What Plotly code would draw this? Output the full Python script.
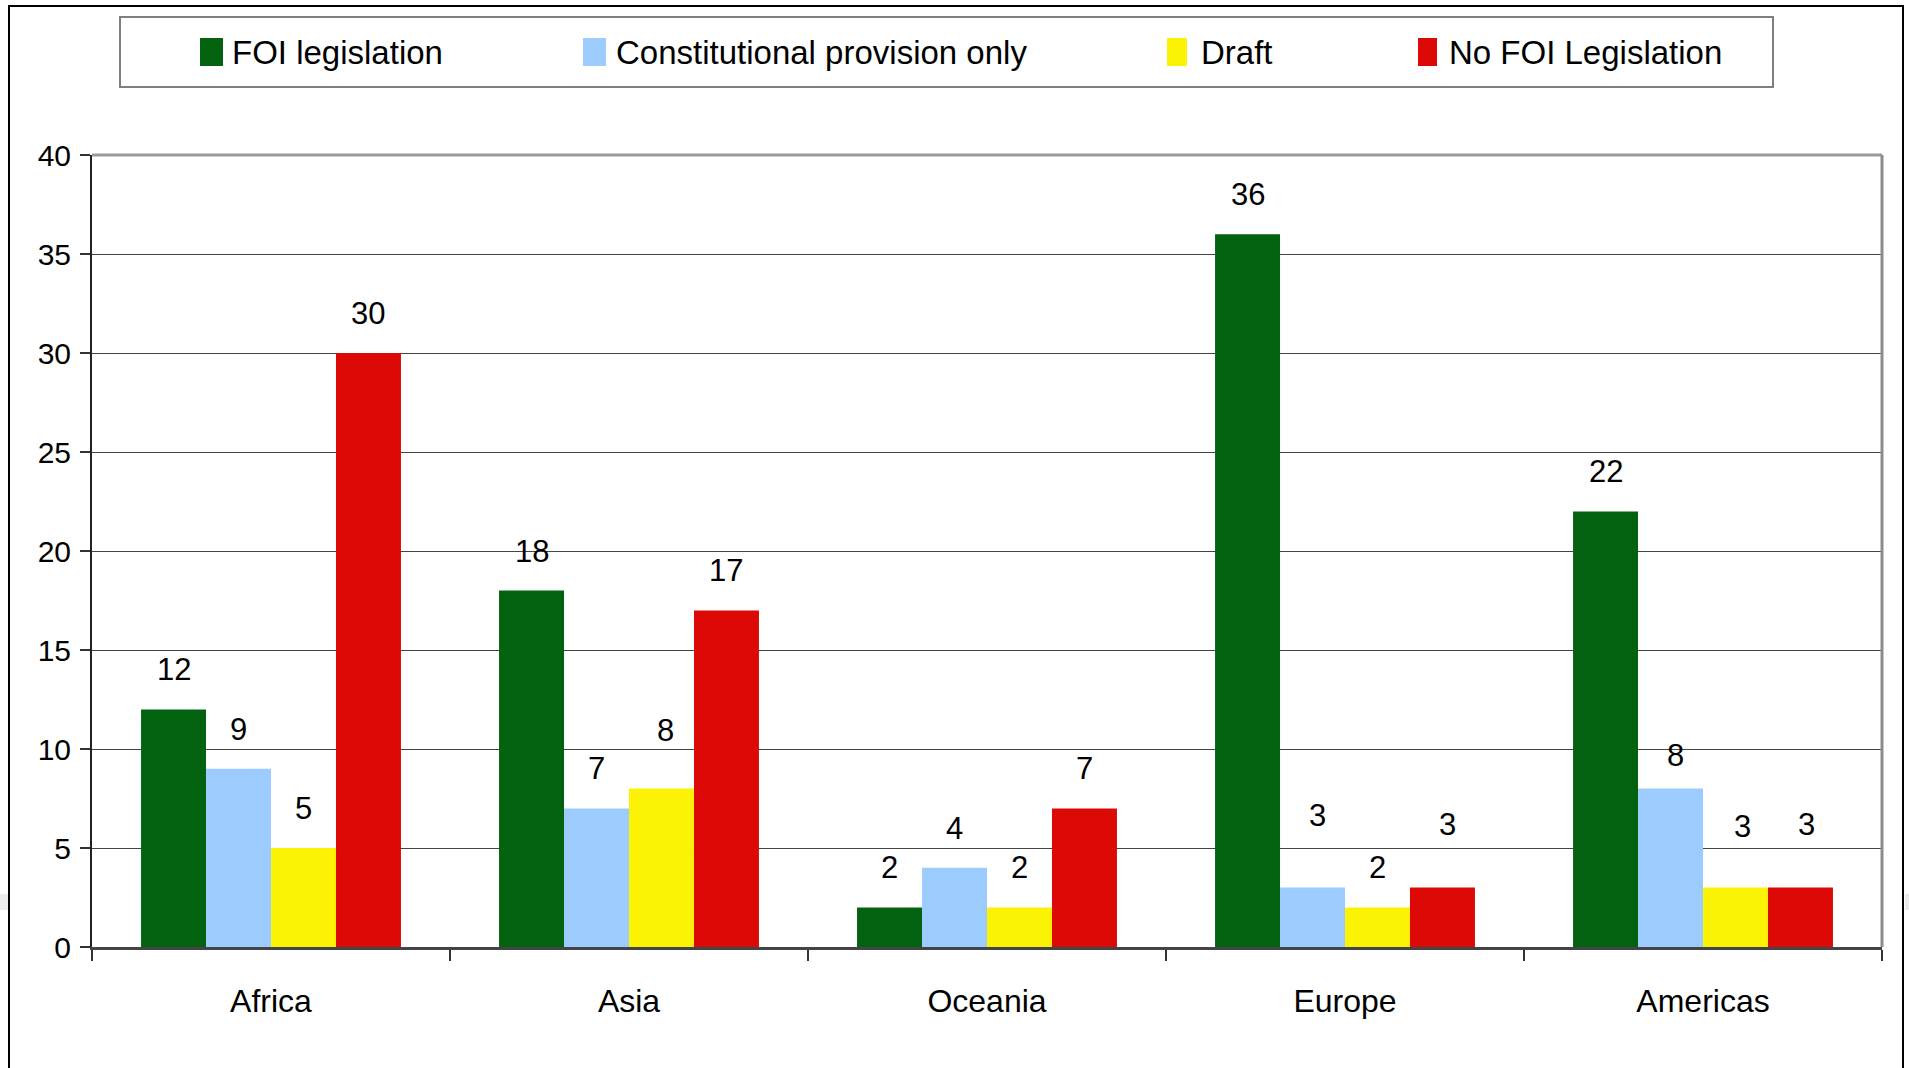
import plotly.graph_objects as go

# Countries by freedom-of-information status, per region
regions = ["Africa", "Asia", "Oceania", "Europe", "Americas"]
series_names = ["FOI legislation", "Constitutional provision only", "Draft", "No FOI Legislation"]
foi_legislation = [12, 18, 2, 36, 22]
constitutional_only = [9, 7, 4, 3, 8]
draft = [5, 8, 2, 2, 3]
no_foi = [30, 17, 7, 3, 3]
y_ticks = [0, 5, 10, 15, 20, 25, 30, 35, 40]

series_values = [foi_legislation, constitutional_only, draft, no_foi]
colors = ["#03620F", "#9CCCFE", "#FCF205", "#DC0906"]

# extra pixel nudges (dx, dy) for a few value labels that sit higher
label_nudge = {
    (2, 1): (4, 19),
    (1, 3): (5, 33),
    (3, 3): (5, 24),
    (2, 4): (7, 22),
    (3, 4): (6, 24),
    (1, 4): (5, -6),
}

W, H = 1909, 1068
M_L, M_R, M_T, M_B = 92, 27, 155, 121
PW, PH = W - M_L - M_R, H - M_T - M_B

FONT = "Liberation Sans Narrow, Arial Narrow, Liberation Sans, Arial, sans-serif"


def px_x(px):
    return (px - M_L) / PW


def px_y(py):
    return (H - M_B - py) / PH


BARGAP = 0.274
bar_w = (1 - BARGAP) / len(series_names)

fig = go.Figure()
for name, vals, col in zip(series_names, series_values, colors):
    fig.add_trace(go.Bar(
        x=regions, y=vals, name=name, marker=dict(color=col, line=dict(width=0)),
        showlegend=False,
    ))

# value labels above each bar
annotations = []
for k, vals in enumerate(series_values):
    offset = (k - (len(series_names) - 1) / 2) * bar_w
    for i, v in enumerate(vals):
        dx, dy = label_nudge.get((k, i), (0, 0))
        annotations.append(dict(
            x=i + offset, y=v, xref="x", yref="y", text=str(v), showarrow=False,
            xanchor="center", yanchor="bottom", xshift=dx, yshift=21 + dy, borderpad=0,
            font=dict(family=FONT, size=31, color="black"),
        ))

# legend box drawn with shapes and text
shapes = []
shapes.append(dict(type="rect", xref="paper", yref="paper",
                   x0=px_x(120), x1=px_x(1773), y0=px_y(87), y1=px_y(17),
                   line=dict(color="#7F7F7F", width=2), fillcolor="white", layer="below"))
legend_items = [(200, 223, 231), (583, 606, 615), (1167, 1187, 1200), (1418, 1437, 1448)]
for (sx0, sx1, tx), name, col in zip(legend_items, series_names, colors):
    shapes.append(dict(type="rect", xref="paper", yref="paper",
                       x0=px_x(sx0), x1=px_x(sx1), y0=px_y(66), y1=px_y(38),
                       line=dict(width=0), fillcolor=col))
    annotations.append(dict(
        x=px_x(tx), y=px_y(52), xref="paper", yref="paper", text=name, showarrow=False,
        xanchor="left", yanchor="middle", borderpad=0,
        font=dict(family=FONT, size=33, color="black"),
    ))

# plot-area top and right borders
shapes.append(dict(type="line", xref="paper", yref="paper", x0=0, x1=1, y0=1, y1=1,
                   line=dict(color="#999999", width=3)))
shapes.append(dict(type="line", xref="paper", yref="paper", x0=1, x1=1, y0=0, y1=1,
                   line=dict(color="#8C8C8C", width=3)))
# outer frame
shapes.append(dict(type="rect", xref="paper", yref="paper",
                   x0=px_x(9), x1=px_x(1903), y0=px_y(1090), y1=px_y(6),
                   line=dict(color="black", width=2), layer="below"))
# faint grey marks at the page edges
shapes.append(dict(type="rect", xref="paper", yref="paper",
                   x0=px_x(0), x1=px_x(8), y0=px_y(910), y1=px_y(894),
                   line=dict(width=0), fillcolor="#EBEBEB", layer="below"))
shapes.append(dict(type="rect", xref="paper", yref="paper",
                   x0=px_x(1905), x1=px_x(1909), y0=px_y(910), y1=px_y(894),
                   line=dict(width=0), fillcolor="#EBEBEB", layer="below"))

fig.update_layout(
    width=W, height=H,
    margin=dict(l=M_L, r=M_R, t=M_T, b=M_B),
    paper_bgcolor="white", plot_bgcolor="white",
    barmode="group", bargap=BARGAP, bargroupgap=0,
    font=dict(family=FONT, color="black"),
    shapes=shapes, annotations=annotations,
    xaxis=dict(
        type="category", tickson="boundaries", ticks="outside", ticklen=11,
        tickcolor="#333333", tickwidth=2, showline=True, linecolor="#444444", linewidth=3,
        tickfont=dict(family=FONT, size=32, color="black"), ticklabelstandoff=24,
        showgrid=False, range=[-0.5, 4.5],
    ),
    yaxis=dict(
        range=[0, 40], tickvals=y_ticks, ticks="outside", ticklen=10, tickcolor="#333333",
        tickwidth=1.5, showline=True, linecolor="#222222", linewidth=2,
        gridcolor="#444444", gridwidth=1, zeroline=False,
        tickfont=dict(family=FONT, size=30, color="black"), ticklabelstandoff=3,
    ),
)

fig.write_html("out.html")
